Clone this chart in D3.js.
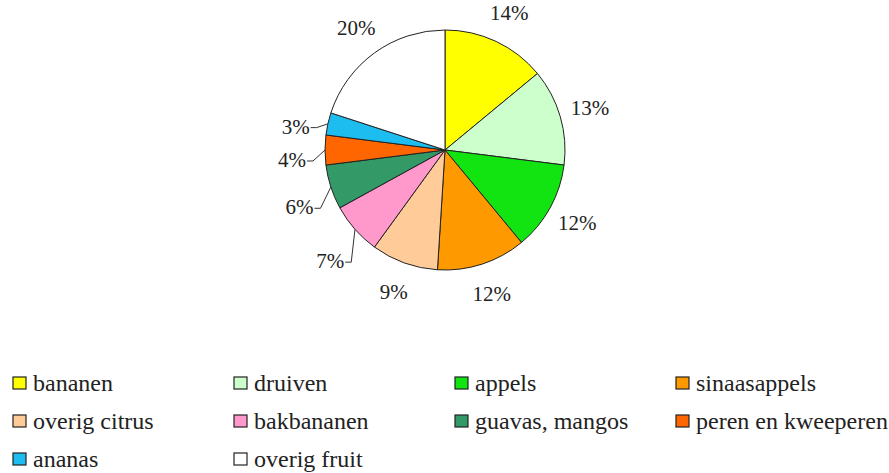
<!DOCTYPE html>
<html>
<head>
<meta charset="utf-8">
<script src="https://cdn.jsdelivr.net/npm/d3@7"></script>
<style>
  html, body { margin: 0; padding: 0; background: #fff; }
  svg { display: block; }
</style>
</head>
<body>
<div id="chart"></div>
<script>
(function () {
  const categories = ['bananen', 'druiven', 'appels', 'sinaasappels', 'overig citrus',
    'bakbananen', 'guavas, mangos', 'peren en kweeperen', 'ananas', 'overig fruit'];
  const shares = [14, 13, 12, 12, 9, 7, 6, 4, 3, 20];
  const sliceColors = ['#ffff00', '#ccffcc', '#11e411', '#ff9900', '#ffcc99',
    '#ff99cc', '#339966', '#ff6600', '#1ebdf0', '#ffffff'];

  const FONT = 'Liberation Serif, serif';
  const w = 889, h = 473;
  const cx = 445, cy = 150, radius = 120;

  const svg = d3.select('#chart')
    .append('svg')
    .attr('width', w)
    .attr('height', h);

  const data = categories.map((c, i) => ({ key: c, value: shares[i], color: sliceColors[i] }));

  const pie = d3.pie().value(d => d.value).sort(null);
  const arc = d3.arc().innerRadius(0).outerRadius(radius);
  const arcs = pie(data);

  const plot = svg.append('g').attr('transform', `translate(${cx},${cy})`);

  plot.selectAll('path.slice')
    .data(arcs)
    .enter()
    .append('path')
    .attr('class', 'slice')
    .attr('d', arc)
    .attr('fill', d => d.data.color)
    .attr('stroke', '#222')
    .attr('stroke-width', 1);

  // labels: small slices sit a bit lower and get a leader line
  const polar = (a, r) => [Math.sin(a) * r, -Math.cos(a) * r];
  const small = d => d.data.value <= 7;
  const labelPos = d => {
    const p = polar((d.startAngle + d.endAngle) / 2, small(d) ? 153 : 151);
    return small(d) ? [p[0], p[1] + 10] : p;
  };

  const labels = plot.selectAll('g.lbl')
    .data(arcs)
    .enter()
    .append('g')
    .attr('class', 'lbl');

  labels.append('text')
    .attr('font-family', FONT)
    .attr('font-size', 21)
    .attr('fill', '#222')
    .attr('text-anchor', 'middle')
    .attr('dominant-baseline', 'central')
    .attr('x', d => labelPos(d)[0])
    .attr('y', d => labelPos(d)[1])
    .text(d => d.data.value + '%');

  labels.filter(small).each(function (d) {
    const g = d3.select(this);
    const bb = g.select('text').node().getBBox();
    const mid = (d.startAngle + d.endAngle) / 2;
    const edge = polar(mid, radius);
    const y0 = bb.y + bb.height / 2 + 1;
    const x0 = bb.x + bb.width + 1;
    g.append('path')
      .attr('d', d3.line()([[x0, y0], [x0 + 6, y0], edge]))
      .attr('fill', 'none')
      .attr('stroke', '#333')
      .attr('stroke-width', 1);
  });

  // legend
  const legend = svg.append('g').attr('transform', 'translate(13,383)');
  const items = legend.selectAll('g.item')
    .data(data)
    .enter()
    .append('g')
    .attr('class', 'item')
    .attr('transform', (d, i) => `translate(${(i % 4) * 221},${Math.floor(i / 4) * 38})`);

  items.append('rect')
    .attr('x', 0)
    .attr('y', -6)
    .attr('width', 13)
    .attr('height', 12)
    .attr('fill', d => d.color)
    .attr('stroke', '#222')
    .attr('stroke-width', 1.2);

  items.append('text')
    .attr('x', 20)
    .attr('y', 0)
    .attr('dominant-baseline', 'central')
    .attr('font-family', FONT)
    .attr('font-size', 24)
    .attr('fill', '#222')
    .text(d => d.key);
})();
</script>
</body>
</html>
